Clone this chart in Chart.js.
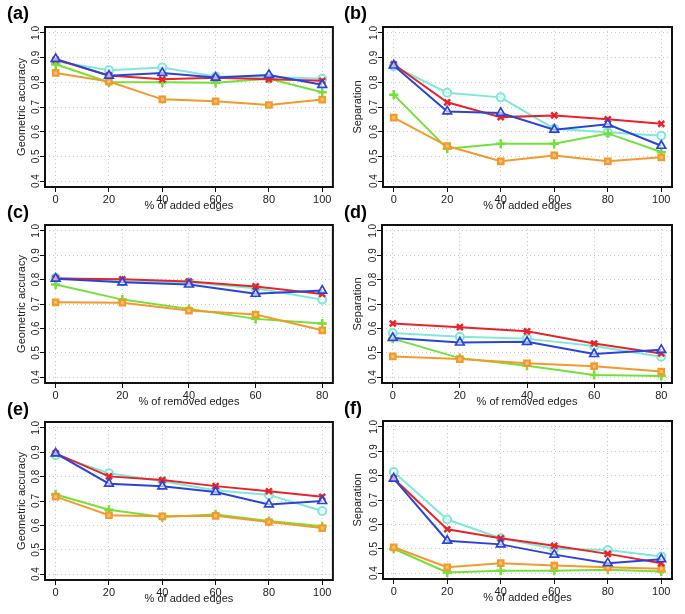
<!DOCTYPE html>
<html><head><meta charset="utf-8">
<script src="https://cdn.jsdelivr.net/npm/chart.js@4"></script>
<style>
body{margin:0;background:#fff;width:685px;height:614px;position:relative;overflow:hidden;font-family:'Liberation Sans',Arial,sans-serif}
canvas{position:absolute}
.wrap{position:absolute}
.lab{position:absolute;font-weight:bold;font-size:18px;color:#000;font-family:'Liberation Sans',Arial,sans-serif}
</style></head><body>
<script>
// ---- data ----
const xAdded = [0, 20, 40, 60, 80, 100];
const xRemoved = [0, 20, 40, 60, 80];
const yTickValues = [0.4, 0.5, 0.6, 0.7, 0.8, 0.9, 1.0];

// panel (a) geometric accuracy, added edges
const aRed    = [0.892, 0.828, 0.812, 0.818, 0.812, 0.806];
const aBlue   = [0.895, 0.827, 0.838, 0.819, 0.830, 0.790];
const aCyan   = [0.885, 0.849, 0.860, 0.824, 0.822, 0.814];
const aGreen  = [0.873, 0.800, 0.800, 0.798, 0.814, 0.760];
const aOrange = [0.838, 0.803, 0.731, 0.723, 0.708, 0.730];
// panel (b) separation, added edges
const bRed    = [0.873, 0.719, 0.659, 0.666, 0.650, 0.632];
const bBlue   = [0.868, 0.682, 0.676, 0.608, 0.630, 0.543];
const bCyan   = [0.865, 0.758, 0.739, 0.612, 0.598, 0.584];
const bGreen  = [0.750, 0.531, 0.551, 0.551, 0.593, 0.518];
const bOrange = [0.657, 0.542, 0.480, 0.504, 0.480, 0.496];
// panel (c) geometric accuracy, removed edges
const cRed    = [0.805, 0.801, 0.792, 0.772, 0.741];
const cBlue   = [0.804, 0.789, 0.780, 0.742, 0.755];
const cCyan   = [0.808, 0.792, 0.789, 0.765, 0.718];
const cGreen  = [0.780, 0.718, 0.680, 0.639, 0.620];
const cOrange = [0.707, 0.705, 0.673, 0.657, 0.592];
// panel (d) separation, removed edges
const dRed    = [0.620, 0.605, 0.588, 0.538, 0.497];
const dBlue   = [0.561, 0.542, 0.545, 0.495, 0.512];
const dCyan   = [0.581, 0.566, 0.558, 0.528, 0.484];
const dGreen  = [0.558, 0.478, 0.447, 0.409, 0.405];
const dOrange = [0.485, 0.474, 0.457, 0.445, 0.423];
// panel (e) geometric accuracy, added edges
const eRed    = [0.895, 0.801, 0.786, 0.761, 0.740, 0.717];
const eBlue   = [0.895, 0.771, 0.760, 0.737, 0.686, 0.700];
const eCyan   = [0.888, 0.814, 0.781, 0.744, 0.725, 0.659];
const eGreen  = [0.727, 0.664, 0.634, 0.645, 0.618, 0.596];
const eOrange = [0.718, 0.642, 0.637, 0.639, 0.614, 0.589];
// panel (f) separation, added edges
const fRed    = [0.788, 0.580, 0.543, 0.512, 0.479, 0.441];
const fBlue   = [0.788, 0.533, 0.518, 0.476, 0.441, 0.457];
const fCyan   = [0.815, 0.620, 0.543, 0.500, 0.495, 0.468];
const fGreen  = [0.500, 0.403, 0.410, 0.410, 0.414, 0.407];
const fOrange = [0.506, 0.424, 0.441, 0.431, 0.424, 0.418];

const xTitleAdded = '% of added edges';
const xTitleRemoved = '% of removed edges';
const yTitleGA = 'Geometric accuracy';
const yTitleSep = 'Separation';

// ---- styles ----
const RED = '#e8232a', BLUE = '#2a44d8', CYAN = '#80e8d8', GREEN = '#74e03a', ORANGE = '#f49a2c';
const FONT = "'Liberation Sans', Arial, sans-serif";

function seriesSet(red, blue, cyan, green, orange) {
  return [
    {label: 'blue', data: blue, color: BLUE, style: 'triangle', bg: 'rgba(255,255,255,0.6)', r: 5, bw: 1.7},
    {label: 'red', data: red, color: RED, style: 'crossRot', bg: RED, r: 4.2, bw: 2.5},
    {label: 'orange', data: orange, color: ORANGE, style: 'rect', bg: '#f8c27a', r: 3.8, bw: 2.3},
    {label: 'green', data: green, color: GREEN, style: 'cross', bg: GREEN, r: 4.6, bw: 2.5},
    {label: 'cyan', data: cyan, color: CYAN, style: 'circle', bg: 'rgba(255,255,255,0.6)', r: 4, bw: 2}
  ];
}

const panels = [
  {tag: '(a)', x: xAdded, xt: xTitleAdded, yt: yTitleGA, s: seriesSet(aRed, aBlue, aCyan, aGreen, aOrange), cx: 0, cw: 340, bl: 45, br: 335, bt: 27, bb: 187, lx: 7, ly: 3, ytPad: 15},
  {tag: '(b)', x: xAdded, xt: xTitleAdded, yt: yTitleSep, s: seriesSet(bRed, bBlue, bCyan, bGreen, bOrange), cx: 340, cw: 345, bl: 383, br: 672, bt: 27, bb: 187, lx: 344, ly: 3, ytPad: 11},
  {tag: '(c)', x: xRemoved, xt: xTitleRemoved, yt: yTitleGA, s: seriesSet(cRed, cBlue, cCyan, cGreen, cOrange), cx: 0, cw: 340, bl: 45, br: 335, bt: 225, bb: 383, lx: 7, ly: 202, ytPad: 15},
  {tag: '(d)', x: xRemoved, xt: xTitleRemoved, yt: yTitleSep, s: seriesSet(dRed, dBlue, dCyan, dGreen, dOrange), cx: 340, cw: 345, bl: 382, br: 672, bt: 225, bb: 383, lx: 344, ly: 202, ytPad: 11},
  {tag: '(e)', x: xAdded, xt: xTitleAdded, yt: yTitleGA, s: seriesSet(eRed, eBlue, eCyan, eGreen, eOrange), cx: 0, cw: 340, bl: 45, br: 335, bt: 422, bb: 580, lx: 7, ly: 399, ytPad: 15},
  {tag: '(f)', x: xAdded, xt: xTitleAdded, yt: yTitleSep, s: seriesSet(fRed, fBlue, fCyan, fGreen, fOrange), cx: 340, cw: 345, bl: 383, br: 672, bt: 421, bb: 579, lx: 344, ly: 398, ytPad: 11}
];

const boxPlugin = {
  id: 'box',
  afterDraw(chart) {
    const {ctx, chartArea: a} = chart;
    ctx.save();
    ctx.strokeStyle = '#111';
    ctx.lineWidth = 2;
    ctx.setLineDash([]);
    ctx.strokeRect(a.left, a.top, a.right - a.left, a.bottom - a.top);
    ctx.restore();
  }
};

const TOPPAD = 27, XAXH = 30;

panels.forEach(p => {
  const canvasTop = p.bt - TOPPAD;
  const h = TOPPAD + (p.bb - p.bt) + XAXH;
  const div = document.createElement('div');
  div.className = 'wrap';
  div.style.left = p.cx + 'px';
  div.style.top = canvasTop + 'px';
  div.style.width = p.cw + 'px';
  div.style.height = h + 'px';
  const cv = document.createElement('canvas');
  div.appendChild(cv);
  document.body.appendChild(div);

  const lab = document.createElement('div');
  lab.className = 'lab';
  lab.textContent = p.tag;
  lab.style.left = p.lx + 'px';
  lab.style.top = p.ly + 'px';
  document.body.appendChild(lab);

  const xMax = p.x[p.x.length - 1];
  const pad = xMax * 0.04;
  const yAxW = p.bl - p.cx;
  const rightPad = p.cw - (p.br - p.cx);

  new Chart(cv, {
    type: 'line',
    data: {
      datasets: p.s.map((s, i) => ({
        label: s.label,
        data: p.x.map((xv, k) => ({x: xv, y: s.data[k]})),
        borderColor: s.color,
        backgroundColor: s.bg,
        pointStyle: s.style,
        pointRadius: s.r,
        pointBorderColor: s.color,
        pointBackgroundColor: s.bg,
        pointBorderWidth: s.bw,
        borderWidth: 2,
        tension: 0,
        fill: false,
        order: i
      }))
    },
    options: {
      responsive: true,
      maintainAspectRatio: false,
      animation: false,
      events: [],
      layout: {padding: {top: TOPPAD, right: rightPad, left: 0, bottom: 0}},
      plugins: {legend: {display: false}, tooltip: {enabled: false}, title: {display: false}},
      scales: {
        x: {
          type: 'linear',
          min: -pad, max: xMax + pad,
          afterBuildTicks: sc => { sc.ticks = p.x.map(v => ({value: v})); },
          afterFit: sc => { sc.height = XAXH; },
          grid: {color: '#c8c8c8', lineWidth: 1, drawTicks: true, tickLength: 5, tickColor: '#111', tickWidth: 1, tickBorderDash: []},
          border: {display: false, dash: [1, 3]},
          ticks: {font: {family: FONT, size: 11}, color: '#222', padding: 1, maxRotation: 0, autoSkip: false,
                  callback: v => String(v)},
          title: {display: true, text: p.xt, font: {family: FONT, size: 11}, color: '#222', padding: {top: 0, bottom: 4}}
        },
        y: {
          min: 0.376, max: 1.024,
          afterBuildTicks: sc => { sc.ticks = yTickValues.map(v => ({value: v})); },
          afterFit: sc => { sc.width = yAxW; },
          grid: {color: '#c8c8c8', lineWidth: 1, drawTicks: true, tickLength: 5, tickColor: '#111', tickWidth: 1, tickBorderDash: []},
          border: {display: false, dash: [1, 3]},
          ticks: {font: {family: FONT, size: 10}, color: '#222', padding: -3.5, minRotation: 90, maxRotation: 90, crossAlign: 'center', autoSkip: false,
                  callback: v => v.toFixed(1)},
          title: {display: true, text: p.yt, font: {family: FONT, size: 11}, color: '#222', padding: {top: p.ytPad, bottom: 0}}
        }
      }
    },
    plugins: [boxPlugin]
  });
});
</script>
</body></html>
